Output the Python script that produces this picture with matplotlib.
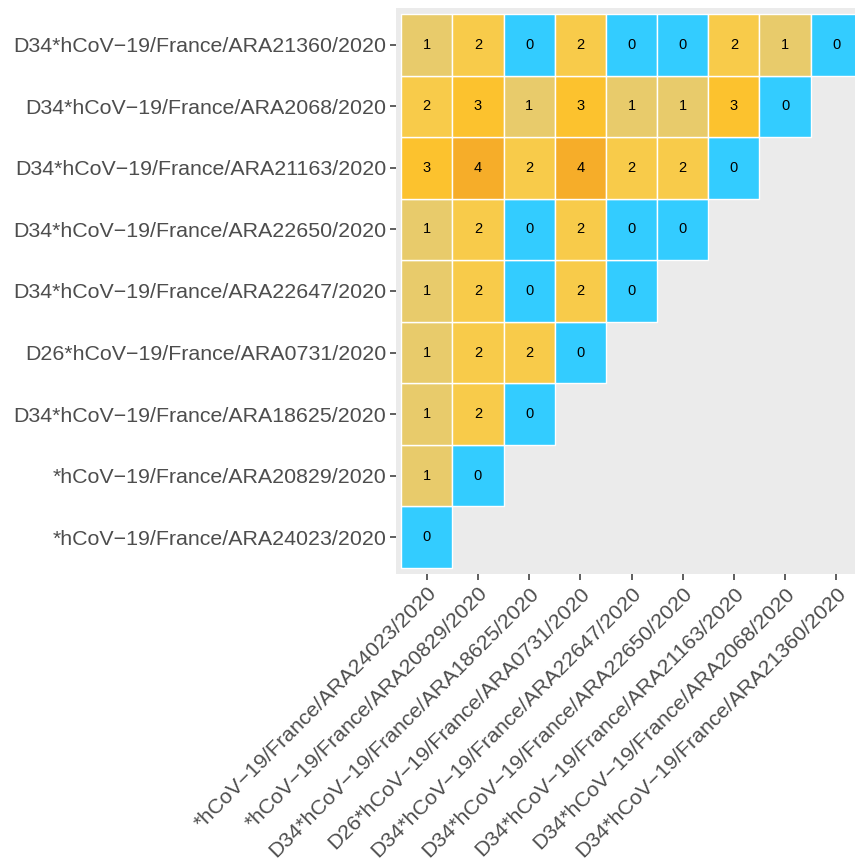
import numpy as np
import matplotlib
matplotlib.use("Agg")
import matplotlib.pyplot as plt

labels = [
    "*hCoV\u221219/France/ARA24023/2020",
    "*hCoV\u221219/France/ARA20829/2020",
    "D34*hCoV\u221219/France/ARA18625/2020",
    "D26*hCoV\u221219/France/ARA0731/2020",
    "D34*hCoV\u221219/France/ARA22647/2020",
    "D34*hCoV\u221219/France/ARA22650/2020",
    "D34*hCoV\u221219/France/ARA21163/2020",
    "D34*hCoV\u221219/France/ARA2068/2020",
    "D34*hCoV\u221219/France/ARA21360/2020",
]

# rows from bottom (y = labels[0]) to top (y = labels[8]); values along x
row_ARA24023 = [0]
row_ARA20829 = [1, 0]
row_ARA18625 = [1, 2, 0]
row_ARA0731 = [1, 2, 2, 0]
row_ARA22647 = [1, 2, 0, 2, 0]
row_ARA22650 = [1, 2, 0, 2, 0, 0]
row_ARA21163 = [3, 4, 2, 4, 2, 2, 0]
row_ARA2068 = [2, 3, 1, 3, 1, 1, 3, 0]
row_ARA21360 = [1, 2, 0, 2, 0, 0, 2, 1, 0]
rows = [row_ARA24023, row_ARA20829, row_ARA18625, row_ARA0731, row_ARA22647,
        row_ARA22650, row_ARA21163, row_ARA2068, row_ARA21360]

colors = ["#33CCFF", "#E8CB6B", "#F8CB4A", "#FCC22E", "#F6AD29"]

n = len(labels)

plt.rcParams['font.family'] = ['Liberation Sans', 'DejaVu Sans']
fig = plt.figure(figsize=(8.55, 8.64), dpi=100)
W, H = 855, 864
ax = fig.add_axes([396 / W, 1 - 574 / H, 471 / W, 566 / H])
ax.set_facecolor("#EBEBEB")

for j, r in enumerate(rows):
    xs = np.arange(1, len(r) + 1)
    ax.bar(xs, np.ones(len(r)), width=1.0, bottom=j + 0.5,
           color=[colors[v] for v in r], edgecolor="white", linewidth=1.0)
    for i, v in enumerate(r):
        ax.text(i + 1, j + 1, str(v), ha="center", va="center", fontsize=10.5, color="black")

ax.set_xlim(0.4, n + 0.6)
ax.set_ylim(0.4, n + 0.6)
ax.set_xticks(np.arange(1, n + 1))
ax.set_yticks(np.arange(1, n + 1))
ax.set_xticklabels(labels, rotation=45, ha="right", va="top", rotation_mode="anchor")
ax.set_yticklabels(labels)
ax.tick_params(axis="both", length=4, width=1.1, color="#333333", labelcolor="#4D4D4D",
               labelsize=15.4, pad=3)
for s in ax.spines.values():
    s.set_visible(False)

fig.savefig("out.png", dpi=100)
